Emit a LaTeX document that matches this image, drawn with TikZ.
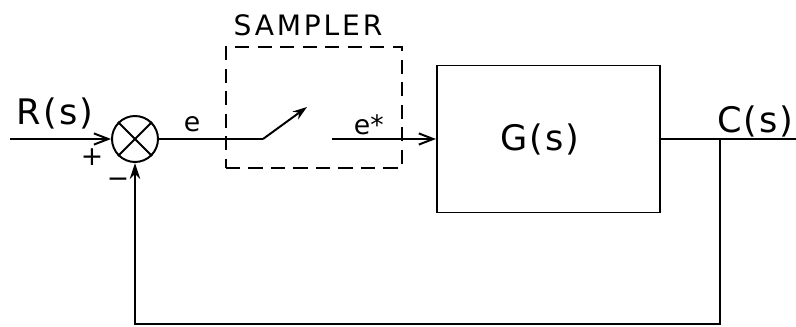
\documentclass[tikz,border=0pt]{standalone}
\usepackage{fontspec}
\setmainfont{DejaVu Sans}
\usetikzlibrary{arrows.meta,positioning}

\begin{document}
\begin{tikzpicture}[>={Straight Barb[length=3.6mm,width=2.8mm]},line width=1.4pt,
  sumnode/.style={draw,circle,minimum size=1.15cm,inner sep=0pt},
  block/.style={draw,minimum width=5.575cm,minimum height=3.675cm,inner sep=0pt},
  dashbox/.style={draw,dash pattern=on 10pt off 6pt,minimum width=4.4cm,minimum height=3.025cm,inner sep=0pt},
  big/.style={font=\fontsize{25}{28}\selectfont\addfontfeature{LetterSpace=6}},
  mid/.style={font=\fontsize{20}{23}\selectfont\addfontfeature{LetterSpace=10}},
  small/.style={font=\fontsize{19}{22}\selectfont}]

\useasboundingbox (0,0) rectangle (19.9,8.175);

% Summing junction
\node[sumnode] (sum) at (3.375,4.7) {};
\draw (sum.45) -- (sum.225) (sum.135) -- (sum.315);

% Input
\coordinate (in) at (0.25,4.7);
\draw[->] (in) -- (sum.west);
\node[big] (r) at (1.38,5.35) {R(s)};
\node[small] (plus) at (2.3,4.25) {+};
\node[small] (minus) at (2.95,3.6) {−};

% Sampler
\node[dashbox] (sampler) at (7.85,5.49) {};
\node[mid] (samplertxt) at (7.7,7.55) {SAMPLER};
\coordinate (pivot) at (6.575,4.7);
\coordinate (arm) at (7.675,5.5);
\coordinate (sout) at (8.3,4.7);
\draw (sum.east) -- (pivot);
\draw[-{Stealth[length=3.6mm,width=2.4mm]}] (pivot) -- (arm);
\node[small,anchor=base] (e) at (4.8,4.875) {e};
\node[small,anchor=base] (estar) at (9.22,4.8) {e*};

% Plant
\node[block] (plant) at (13.71,4.7) {};
\node[big] (g) at (13.5,4.7) {G(s)};
\draw[->] (sout) -- (plant.west);

% Output
\coordinate (junc) at (18.0,4.7);
\coordinate (out) at (19.9,4.7);
\draw (plant.east) -- (out);
\node[big,anchor=base east,inner xsep=1pt] (c) at (19.9,4.85) {C(s)};

% Feedback
\coordinate (fb) at (18.0,0.075);
\draw[-{Stealth[length=4mm,width=2.6mm]}] (junc) -- (fb) -| (sum.south);

\end{tikzpicture}
\end{document}
